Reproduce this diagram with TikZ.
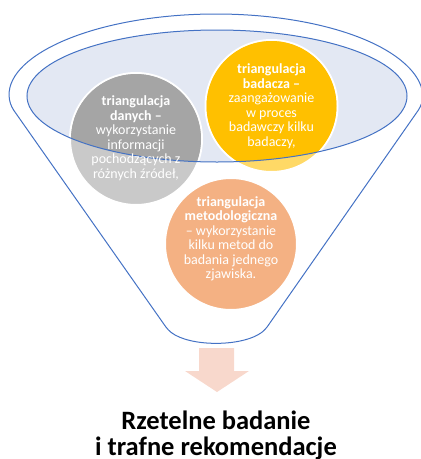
\documentclass[tikz,border=0pt]{standalone}
\usepackage{fontspec}
\setmainfont{Carlito}
\definecolor{funnelblue}{RGB}{68,114,196}
\definecolor{ellfill}{RGB}{227,232,243}
\definecolor{graydark}{RGB}{165,165,165}
\definecolor{graylight}{RGB}{201,201,201}
\definecolor{yellowdark}{RGB}{255,192,0}
\definecolor{yellowlight}{RGB}{255,217,102}
\definecolor{orangefill}{RGB}{244,177,131}
\definecolor{arrowfill}{RGB}{248,216,204}
\tikzset{
  circbox/.style={circle, draw=white, line width=2pt, minimum size=132pt, inner sep=0pt},
  circtext/.style={text=white, align=center, font=\fontsize{14}{14.5}\selectfont, inner sep=0pt},
  outline/.style={draw=funnelblue, line width=1pt},
}
\begin{document}
\begin{tikzpicture}[x=1pt,y=-1pt]
\useasboundingbox (0,0) rectangle (421,459);
% funnel outline
\draw[outline, rounded corners=4pt] (216,97) ++(187:206pt and 83pt)
  arc[start angle=187, end angle=-7, x radius=206pt, y radius=83pt]
  -- (265,330) .. controls (242,347) and (190,347) .. (168,330) -- cycle;
% inner ellipse fill
\fill[ellfill] (217,96) ellipse [x radius=190pt, y radius=66pt];
% circles (outside-ellipse tones)
\node[circbox, fill=graylight] (dane) at (136,139) {};
\node[circbox, fill=yellowlight] (badacz) at (271.5,106) {};
\node[circbox, fill=orangefill] (metoda) at (231,244) {};
% darker tones inside the ellipse
\begin{scope}
  \clip (217,96) ellipse [x radius=190pt, y radius=66pt];
  \fill[graydark] (dane.center) circle [radius=65pt];
  \fill[yellowdark] (badacz.center) circle [radius=65pt];
\end{scope}
% inner ellipse outline
\draw[outline] (217,96) ellipse [x radius=190pt, y radius=66pt];
% texts
\node[circtext] (daneT) at (136,138) {\textbf{triangulacja}\\\textbf{danych –}\\wykorzystanie\\informacji\\pochodzących z\\różnych źródeł,};
\node[circtext] (badaczT) at (271.5,106) {\textbf{triangulacja}\\\textbf{badacza –}\\zaangażowanie\\w proces\\badawczy kilku\\badaczy,};
\node[circtext] (metodaT) at (231,239) {\textbf{triangulacja}\\\textbf{metodologiczna}\\– wykorzystanie\\kilku metod do\\badania jednego\\zjawiska.};
% arrow
\coordinate (a1) at (199,348);
\coordinate (a2) at (234,348);
\fill[arrowfill] (a1) -- (a2) -- (234,371) -- (249,371) -- (217,392) -- (185,371) -- (199,371) -- cycle;
% title
\node[font=\bfseries\fontsize{26.5}{26}\selectfont, align=center, inner sep=0pt, anchor=north] (title) at (216,411) {Rzetelne badanie\\i trafne rekomendacje};
\end{tikzpicture}
\end{document}
